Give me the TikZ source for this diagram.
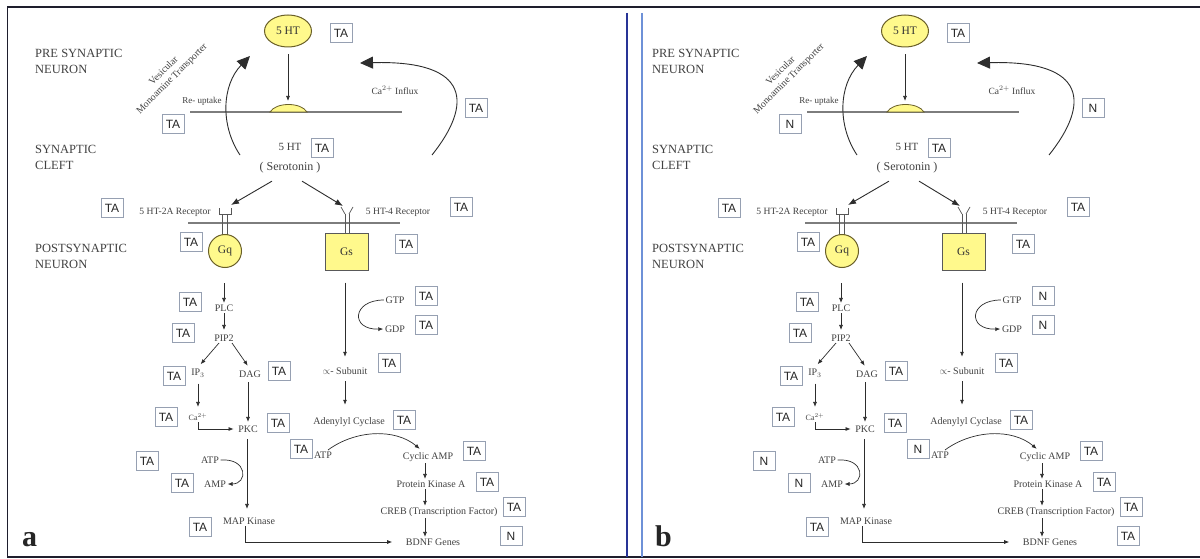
\documentclass[tikz,border=0pt]{standalone}
\usepackage{fontspec}
\setmainfont{Liberation Serif}
\setsansfont{Liberation Sans}
\usetikzlibrary{arrows.meta,shapes.geometric,calc}

\definecolor{ink}{RGB}{45,45,45}
\definecolor{txt}{RGB}{65,65,65}
\definecolor{memb}{RGB}{125,125,125}
\definecolor{gfill}{RGB}{255,249,140}
\definecolor{gedge}{RGB}{105,95,40}
\definecolor{tagedge}{RGB}{150,160,178}
\definecolor{navy}{RGB}{40,52,150}
\definecolor{skyline}{RGB}{110,145,215}
\definecolor{framec}{RGB}{30,30,45}

\tikzset{
  small/.style={font=\fontsize{10}{12}\selectfont, text=txt, inner sep=1.5pt},
  region/.style={font=\fontsize{12.5}{16}\selectfont, text=txt, align=left, anchor=west, inner sep=0pt},
  tag/.style={draw=tagedge, line width=0.6pt, font=\sffamily\fontsize{12}{12}\selectfont,
    text=black!85, minimum width=22pt, minimum height=19pt, inner sep=0pt},
  gprot/.style={draw=gedge, fill=gfill, line width=1pt, font=\fontsize{11.5}{12}\selectfont,
    text=black!80, inner sep=0pt},
  arr/.style={draw=ink, line width=0.7pt, -{Latex[length=5pt,width=4pt]}},
  marr/.style={draw=ink, line width=0.9pt, -{Latex[length=8pt,width=6pt]}},
  bigarr/.style={draw=ink, line width=0.9pt, -{Triangle[length=13pt,width=12pt]}},
  membrane/.style={draw=memb, line width=1.4pt},
  recep/.style={draw=ink!80, line width=0.7pt},
  panelmark/.style={font=\bfseries\fontsize{30}{30}\selectfont, text=black!85,
    anchor=base west, inner sep=0pt},
}

% One complete serotonin signalling panel; tag texts and the panel letter
% are taken from \tReup, \tCa, \tGtp, \tGdp, \tAtpa, \tAmp, \tAtpb, \tBdnf,
% \markx and \markl.
\newcommand{\synapsepanel}{%
  % compartment names
  \node[region] (pre)   at (35,61)  {PRE SYNAPTIC\\NEURON};
  \node[region] (cleft) at (35,157) {SYNAPTIC\\CLEFT};
  \node[region] (post)  at (35,256) {POSTSYNAPTIC\\NEURON};
  % presynaptic terminal
  \node[gprot, ellipse, minimum width=47pt, minimum height=32pt] (ht) at (288,31) {5 HT};
  \node[tag] (t-ht) at (341,33) {TA};
  \draw[membrane] (190,112) -- (402,112);
  \filldraw[fill=gfill, draw=gedge, line width=0.8pt]
    (270,112) .. controls (276,102) and (301,102) .. (307,112) -- cycle;
  \coordinate (bump) at (288,101);
  \draw[arr, shorten <=7pt] (ht.south) -- (bump);
  \node[small, font=\fontsize{9}{10}\selectfont] (reup) at (202,101) {Re- uptake};
  \node[small, rotate=45, align=center, font=\fontsize{9.8}{11.5}\selectfont]
    (vmat) at (168,75) {Vesicular\\Monoamine Transporter};
  \node[tag] (t-reup) at (173,124) {\tReup};
  \coordinate (lo1) at (240,155);
  \coordinate (hi1) at (250,56);
  \draw[bigarr] (lo1) .. controls (220,125) and (222,85) .. (hi1);
  \coordinate (lo2) at (432,155);
  \coordinate (hi2) at (360,63);
  \draw[bigarr] (lo2) .. controls (472,105) and (472,60) .. (hi2);
  \node[small, font=\fontsize{9.5}{11}\selectfont] (cain) at (395,90) {Ca$^{2+}$ Influx};
  \node[tag] (t-cain) at (476,108) {\tCa};
  % synaptic cleft
  \node[small, font=\fontsize{11}{12}\selectfont] (ht2) at (290,147) {5 HT};
  \node[tag] (t-ht2) at (322,148) {TA};
  \node[small, font=\fontsize{12}{13}\selectfont] (ser) at (290,168) {( Serotonin )};
  \coordinate (r2a) at (225,211);
  \coordinate (r4) at (347,211);
  \draw[marr] ([shift={(-18,6)}]ser.south) -- ([shift={(6,-6)}]r2a);
  \draw[marr] ([shift={(12,6)}]ser.south) -- ([shift={(-4,-5)}]r4);
  % postsynaptic membrane and receptors
  \draw[membrane] (188,223) -- (400,223);
  \draw[recep] (219,208) -- (219,214) -- (231,214) -- (231,208);
  \draw[recep] (222.5,214) -- (222.5,236) (227.5,214) -- (227.5,236);
  \draw[recep] (341,207) -- (345,214) (353,207) -- (349,214);
  \draw[recep] (345,214) -- (345,236) (349,214) -- (349,236);
  \node[gprot, circle, minimum size=33pt] (gq) at (225,251) {Gq};
  \node[gprot, rectangle, minimum width=43pt, minimum height=37pt, draw=black!65] (gs) at (346.5,251.5) {Gs};
  \node[small, font=\fontsize{9.6}{11}\selectfont] (l2a) at (175,212) {5 HT-2A Receptor};
  \node[small, font=\fontsize{9.6}{11}\selectfont] (l4) at (398,212) {5 HT-4 Receptor};
  \node[tag] (t-l2a) at (112,208) {TA};
  \node[tag] (t-l4)  at (461,207) {TA};
  \node[tag] (t-gq)  at (191,242) {TA};
  \node[tag] (t-gs)  at (406,244) {TA};
  % Gq branch
  \node[small] (plc) at (224,308) {PLC};
  \draw[arr, shorten <=15pt] (gq.south -| plc.north) -- (plc.north);
  \node[small] (pip) at (224,338) {PIP2};
  \draw[arr, shorten >=3pt] (plc) -- (pip);
  \node[small] (ip3) at (198,373) {IP$_3$};
  \node[small] (dag) at (250,374) {DAG};
  \draw[arr, shorten >=4pt] ([xshift=-5pt]pip.south) -- (ip3.north);
  \draw[arr, shorten >=4pt] ([xshift=8pt]pip.south) -- (dag.north);
  \node[small, font=\fontsize{8}{9}\selectfont] (ca) at (198,417) {Ca$^{2+}$};
  \draw[arr, shorten <=5pt, shorten >=5pt] (ip3.south -| ca) -- (ca.north);
  \node[small] (pkc) at (248,429) {PKC};
  \draw[arr, shorten <=3pt, shorten >=2pt] (dag.south -| pkc) -- (pkc.north);
  \draw[arr, shorten >=3pt] (ca.south) |- (pkc.west);
  \node[small] (mapk) at (249,521) {MAP Kinase};
  \draw[arr, shorten <=5pt, shorten >=7pt] ([xshift=-1pt]pkc.south) -- ([xshift=-1pt]pkc.south |- mapk.north);
  \node[small] (atp1) at (210,460) {ATP};
  \node[small] (amp) at (215,484) {AMP};
  \draw[arr] (atp1.east) .. controls (248,458) and (248,484) .. (amp.east);
  \node[small] (bdnf) at (433,542) {BDNF Genes};
  \draw[arr, shorten >=12pt] ([xshift=-4pt]mapk.south) |- (bdnf.west);
  \node[tag] (t-plc)  at (190,302) {TA};
  \node[tag] (t-pip)  at (183,333) {TA};
  \node[tag] (t-ip3)  at (174,376) {TA};
  \node[tag] (t-dag)  at (279,371) {TA};
  \node[tag] (t-ca)   at (166,417) {TA};
  \node[tag] (t-pkc)  at (278,423) {TA};
  \node[tag] (t-mapk) at (200,527) {TA};
  \node[tag] (t-atp1) at (147,461) {\tAtpa};
  \node[tag] (t-amp)  at (182,483) {\tAmp};
  % Gs branch
  \node[small] (alpha) at (345,371) {$\propto$- Subunit};
  \draw[arr, shorten <=12pt, shorten >=9pt] (gs.south -| alpha.north) -- (alpha.north);
  \node[small] (gtp) at (395,300) {GTP};
  \node[small] (gdp) at (395,329) {GDP};
  \draw[arr] (gtp.west) .. controls (352,300) and (350,330) .. (gdp.west);
  \node[small] (ac) at (349,422) {Adenylyl Cyclase};
  \draw[arr, shorten <=5pt, shorten >=11pt] (alpha.south) -- (alpha.south |- ac.north);
  \node[small] (atp2) at (323,455) {ATP};
  \node[small] (camp) at (428,457) {Cyclic AMP};
  \draw[arr, shorten >=3pt] ([xshift=5pt]atp2.north) .. controls (355,430) and (395,428) .. ([xshift=-6pt]camp.north);
  \coordinate (cx) at (425,470);
  \node[small] (pka) at (431,484) {Protein Kinase A};
  \node[small] (creb) at (439,512) {CREB (Transcription Factor)};
  \draw[arr] (camp.south -| cx) -- (pka.north -| cx);
  \draw[arr] (pka.south -| cx) -- (creb.north -| cx);
  \draw[arr] (creb.south -| cx) -- (bdnf.north -| cx);
  \node[tag] (t-alpha) at (389,363) {TA};
  \node[tag] (t-gtp)   at (426,296) {\tGtp};
  \node[tag] (t-gdp)   at (426,325) {\tGdp};
  \node[tag] (t-ac)    at (404,420) {TA};
  \node[tag] (t-atp2)  at (301,449) {\tAtpb};
  \node[tag] (t-camp)  at (474,451) {TA};
  \node[tag] (t-pka)   at (487,482) {TA};
  \node[tag] (t-creb)  at (514,507) {TA};
  \node[tag] (t-bdnf)  at (511,536) {\tBdnf};
  % panel letter
  \node[panelmark] (mark) at (\markx,546) {\markl};
}

\begin{document}
\begin{tikzpicture}[x=1pt,y=-1pt]
  \useasboundingbox (0,0) rectangle (1200,559);
  \fill[white] (0,0) rectangle (1200,559);
  % outer frame and the double rule between the panels
  \draw[framec, line width=1.6pt] (1200,7) -- (7.5,7) -- (7.5,557) -- (1200,557);
  \draw[navy, line width=1.8pt] (627,13) -- (627,557);
  \draw[skyline, line width=1.2pt] (642,13) -- (642,557);

  \begin{scope}[name prefix=a-]
    \def\tReup{TA}\def\tCa{TA}\def\tGtp{TA}\def\tGdp{TA}
    \def\tAtpa{TA}\def\tAmp{TA}\def\tAtpb{TA}\def\tBdnf{N}
    \def\markx{22}\def\markl{a}
    \synapsepanel
  \end{scope}

  \begin{scope}[xshift=617pt, name prefix=b-]
    \def\tReup{N}\def\tCa{N}\def\tGtp{N}\def\tGdp{N}
    \def\tAtpa{N}\def\tAmp{N}\def\tAtpb{N}\def\tBdnf{TA}
    \def\markx{38}\def\markl{b}
    \synapsepanel
  \end{scope}
\end{tikzpicture}
\end{document}
